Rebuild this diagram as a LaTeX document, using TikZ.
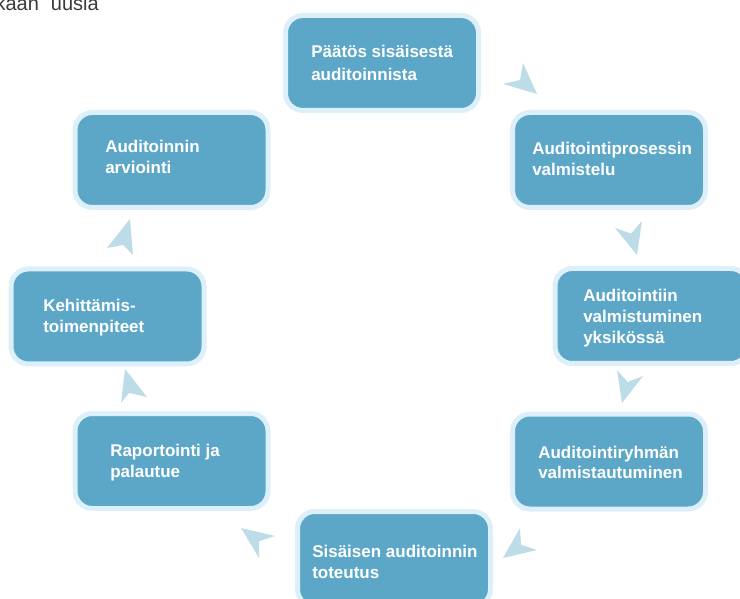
\documentclass[tikz,border=0pt]{standalone}
\usepackage{fontspec}
\setmainfont{Liberation Sans}
\definecolor{boxblue}{HTML}{5CA7C8}
\definecolor{boxrim}{HTML}{DDF0F9}
\definecolor{arrowblue}{HTML}{BCDDE7}
\definecolor{pagegray}{HTML}{3A3A3A}
\tikzset{
  stepbox/.style={draw=boxrim, fill=boxblue, line width=3.75pt, rounded corners=13pt,
    minimum width=144.75pt, minimum height=71.25pt, inner sep=0pt},
  steptext/.style={anchor=base west, inner sep=0pt, align=left, text=white,
    font=\fontsize{12.75}{15.75}\selectfont\bfseries},
  cyclearrow/.style={fill=arrowblue, draw=none}
}
\begin{document}
\begin{tikzpicture}[x=0.75pt,y=-0.75pt]
\useasboundingbox (0,0) rectangle (740,599);
\clip (0,0) rectangle (740,599);
% top-left cropped page text
\node[anchor=base east, inner sep=0pt, text=pagegray, font=\fontsize{15}{18}\selectfont] (pg) at (99,11) {kaan\hspace{9pt}uusia};
% boxes
\node[stepbox] (b1) at (382,63) {};
\node[stepbox] (b2) at (609,160) {};
\node[stepbox] (b3) at (651.5,316) {};
\node[stepbox] (b4) at (609,461.5) {};
\node[stepbox] (b5) at (394,559) {};
\node[stepbox] (b6) at (171.5,461) {};
\node[stepbox] (b7) at (107.5,316.5) {};
\node[stepbox] (b8) at (171.5,160) {};
% texts (anchored at the baseline of the last line)
\node[steptext] (t1) at (311,81) {Päätös sisäisestä\\[1.5pt]auditoinnista};
\node[steptext] (t2) at (532,176) {Auditointiprosessin\\valmistelu};
\node[steptext] (t3) at (583,344) {Auditointiin\\valmistuminen\\yksikössä};
\node[steptext] (t4) at (538,479) {Auditointiryhmän\\valmistautuminen};
\node[steptext] (t5) at (312,578) {Sisäisen auditoinnin\\toteutus};
\node[steptext] (t6) at (110,477) {Raportointi ja\\palautue};
\node[steptext] (t7) at (43,333) {Kehittämis-\\toimenpiteet};
\node[steptext] (t8) at (105,174) {Auditoinnin\\arviointi};
% arrowheads
\fill[cyclearrow] (537,94) -- (523,63) -- (520,80) -- (503,84) -- cycle;
\fill[cyclearrow] (637,255) -- (615,228) -- (631,233.5) -- (642,221) -- cycle;
\fill[cyclearrow] (622,403) -- (617,370) -- (627.6,382) -- (643,376) -- cycle;
\fill[cyclearrow] (503,558) -- (520,528) -- (521,544.7) -- (537,550) -- cycle;
\fill[cyclearrow] (241,528) -- (275,536) -- (259,541.3) -- (259,558) -- cycle;
\fill[cyclearrow] (125,369) -- (147,397) -- (129,393) -- (121,403) -- cycle;
\fill[cyclearrow] (130,219) -- (133,255) -- (123,245) -- (107,248) -- cycle;
\end{tikzpicture}
\end{document}
